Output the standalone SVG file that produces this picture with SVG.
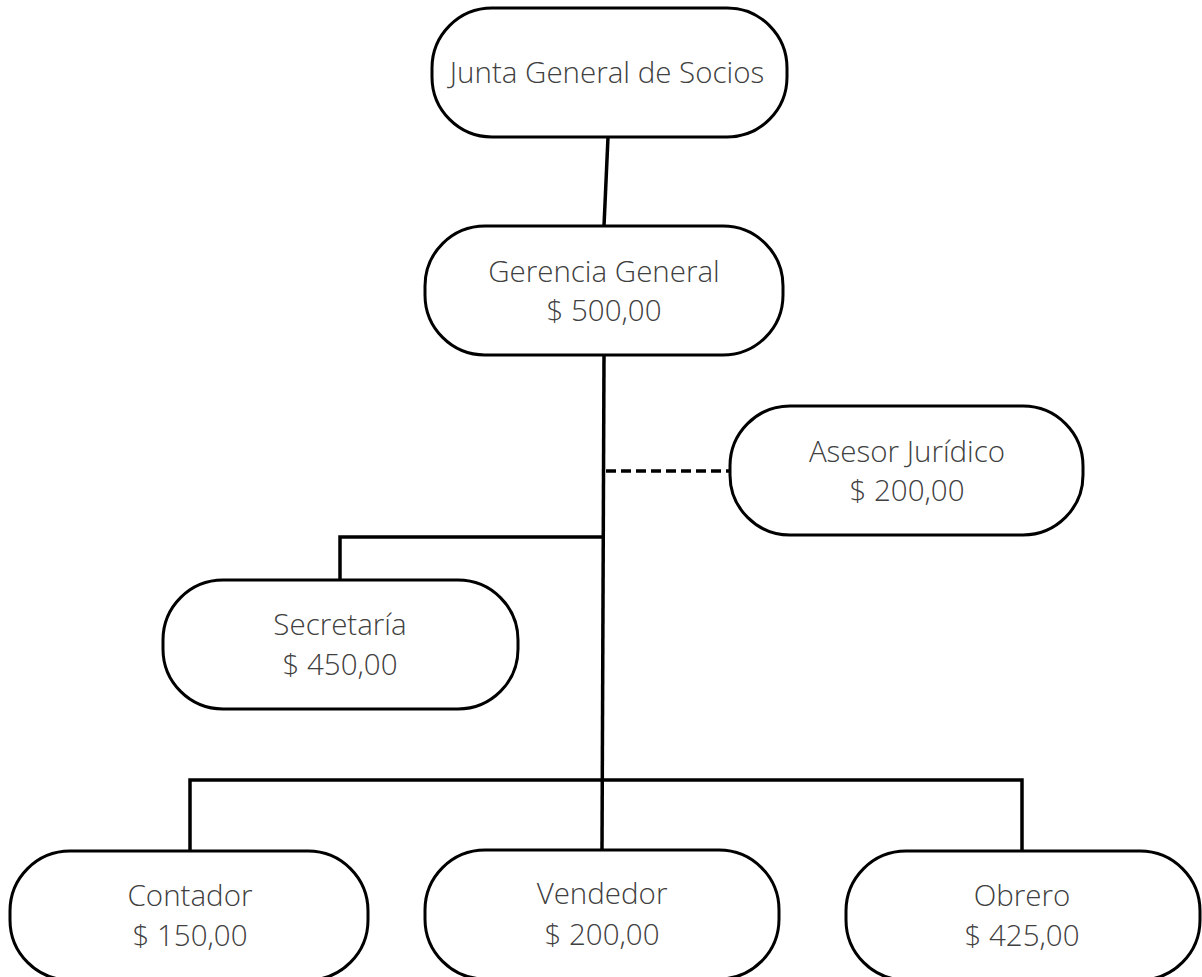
<svg xmlns="http://www.w3.org/2000/svg" width="1202" height="977" viewBox="0 0 1202 977">
<style>
.box{fill:#fff;stroke:#000;stroke-width:3}
.lbl{font-family:"Open Sans","Noto Sans",sans-serif;font-weight:300;font-size:29.5px;fill:#404040;text-anchor:middle}
.ln{stroke:#000;stroke-width:3.5;fill:none}
.dash{stroke:#000;stroke-width:3.5;fill:none;stroke-dasharray:10 5}
</style>
<rect width="1202" height="977" fill="#fff"/>
<g id="connectors">
<line class="ln" x1="608" y1="137" x2="604" y2="226"/>
<line class="ln" x1="604" y1="355" x2="602" y2="850"/>
<line class="dash" x1="606" y1="471" x2="730" y2="471"/>
<polyline class="ln" points="604,537 340,537 340,580"/>
<polyline class="ln" points="190,851 190,780 1022,780 1022,851"/>
</g>
<g id="junta">
<rect class="box" x="432" y="8" width="355" height="129" rx="60"/>
<text class="lbl" x="607" y="83">Junta General de Socios</text>
</g>
<g id="gerencia">
<rect class="box" x="425" y="226" width="358" height="129" rx="60"/>
<text class="lbl" x="604" y="282">Gerencia General</text>
<text class="lbl" x="604" y="321">$ 500,00</text>
</g>
<g id="asesor">
<rect class="box" x="730" y="406" width="353" height="129" rx="60"/>
<text class="lbl" x="907" y="462">Asesor Jurídico</text>
<text class="lbl" x="907" y="501">$ 200,00</text>
</g>
<g id="secretaria">
<rect class="box" x="163" y="580" width="355" height="129" rx="60"/>
<text class="lbl" x="340" y="635">Secretaría</text>
<text class="lbl" x="340" y="675">$ 450,00</text>
</g>
<g id="contador">
<rect class="box" x="10" y="851" width="358" height="129" rx="60"/>
<text class="lbl" x="190" y="906">Contador</text>
<text class="lbl" x="190" y="946">$ 150,00</text>
</g>
<g id="vendedor">
<rect class="box" x="425" y="850" width="354" height="129" rx="60"/>
<text class="lbl" x="602" y="904">Vendedor</text>
<text class="lbl" x="602" y="945">$ 200,00</text>
</g>
<g id="obrero">
<rect class="box" x="846" y="851" width="354" height="129" rx="60"/>
<text class="lbl" x="1022" y="906">Obrero</text>
<text class="lbl" x="1022" y="946">$ 425,00</text>
</g>
</svg>
